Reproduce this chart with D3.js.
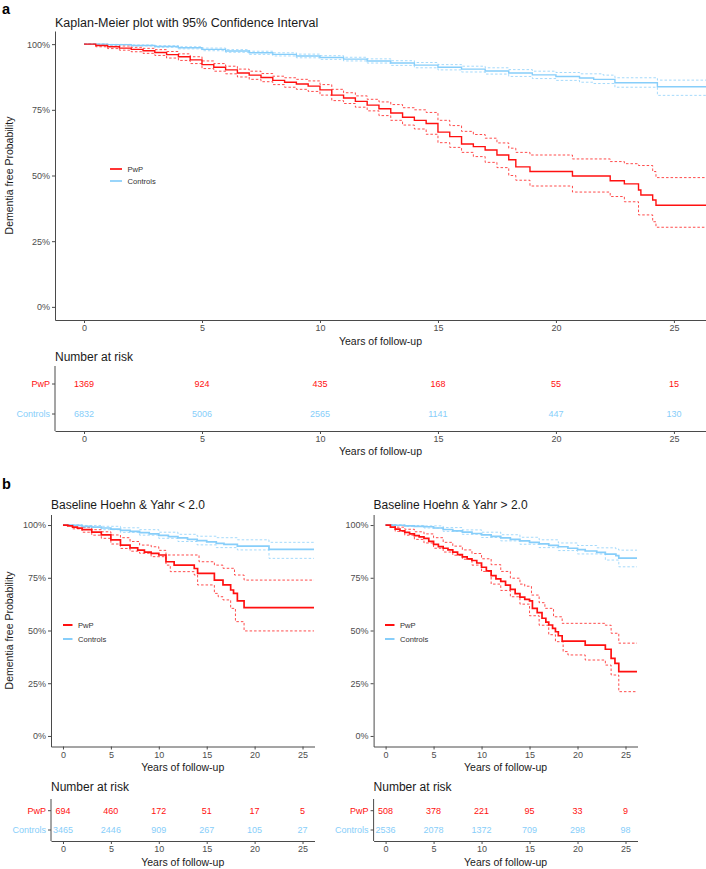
<!DOCTYPE html>
<html><head><meta charset="utf-8">
<script src="https://cdn.jsdelivr.net/npm/d3@7"></script>
<style>body{margin:0;background:#fff} svg text{font-family:"Liberation Sans",Arial,sans-serif}</style>
</head><body>
<svg id="chart" width="706" height="869"></svg>
<script>
// ---------------- data ----------------
const groups = ["PwP", "Controls"];
const riskTimes = [0, 5, 10, 15, 20, 25];
const yTicks = [0, 0.25, 0.5, 0.75, 1];

const riskAllPwP = [1369, 924, 435, 168, 55, 15];
const riskAllCtl = [6832, 5006, 2565, 1141, 447, 130];
const riskLowPwP = [694, 460, 172, 51, 17, 5];
const riskLowCtl = [3465, 2446, 909, 267, 105, 27];
const riskHighPwP = [508, 378, 221, 95, 33, 9];
const riskHighCtl = [2536, 2078, 1372, 709, 298, 98];

// Panel a : all patients  [years, survival]
const allPwP = [[0,1],[0.5,0.995],[1,0.99],[1.5,0.985],[2,0.98],[2.5,0.975],[3,0.968],[3.5,0.96],[4,0.952],[4.5,0.94],[5,0.922],[5.5,0.912],[6,0.902],[6.5,0.89],[7,0.882],[7.5,0.873],[8,0.862],[8.5,0.855],[9,0.848],[9.5,0.84],[10,0.826],[10.5,0.806],[11,0.795],[11.5,0.782],[12,0.768],[12.5,0.754],[13,0.738],[13.5,0.722],[14,0.71],[14.5,0.698],[15,0.665],[15.5,0.648],[16,0.62],[16.5,0.61],[17,0.597],[17.5,0.578],[18,0.56],[18.3,0.533],[18.9,0.515],[20.7,0.498],[22.3,0.48],[22.9,0.468],[23.5,0.445],[23.6,0.426],[24.1,0.407],[24.24,0.387],[26.4,0.387]];
const allPwPUp = [[0,1],[0.5,0.999],[1,0.997],[1.5,0.993],[2,0.988],[2.5,0.984],[3,0.979],[3.5,0.972],[4,0.963],[4.5,0.952],[5,0.936],[5.5,0.926],[6,0.916],[6.5,0.905],[7,0.897],[7.5,0.888],[8,0.878],[8.5,0.872],[9,0.866],[9.5,0.86],[10,0.846],[10.5,0.828],[11,0.815],[11.5,0.803],[12,0.79],[12.5,0.78],[13,0.77],[13.5,0.758],[14,0.75],[14.5,0.74],[15,0.71],[15.5,0.69],[16,0.668],[16.5,0.656],[17,0.642],[17.5,0.624],[18,0.604],[18.3,0.588],[18.9,0.578],[20.7,0.563],[22.3,0.553],[22.9,0.545],[23.5,0.538],[24.1,0.515],[24.24,0.492],[26.4,0.492]];
const allPwPLo = [[0,1],[0.5,0.99],[1,0.983],[1.5,0.977],[2,0.971],[2.5,0.965],[3,0.957],[3.5,0.947],[4,0.938],[4.5,0.926],[5,0.907],[5.5,0.897],[6,0.887],[6.5,0.875],[7,0.866],[7.5,0.857],[8,0.846],[8.5,0.836],[9,0.828],[9.5,0.82],[10,0.806],[10.5,0.785],[11,0.774],[11.5,0.76],[12,0.746],[12.5,0.728],[13,0.71],[13.5,0.692],[14,0.677],[14.5,0.657],[15,0.625],[15.5,0.607],[16,0.588],[16.5,0.572],[17,0.55],[17.5,0.53],[18,0.5],[18.3,0.482],[18.9,0.46],[20.7,0.437],[22.3,0.42],[22.9,0.4],[23.5,0.35],[24.1,0.324],[24.24,0.303],[26.4,0.303]];
const allCtl = [[0,1],[1,0.998],[2,0.995],[3,0.991],[4,0.986],[5,0.98],[6,0.974],[7,0.967],[8,0.961],[9,0.955],[10,0.949],[11,0.943],[12,0.936],[13,0.928],[14,0.92],[15,0.912],[16,0.905],[17,0.898],[18,0.89],[19,0.883],[20,0.877],[21,0.871],[21.6,0.866],[22.5,0.853],[24.3,0.838],[26.4,0.838]];
const allCtlUp = [[0,1],[1,0.999],[2,0.997],[3,0.994],[4,0.99],[5,0.985],[6,0.979],[7,0.973],[8,0.967],[9,0.962],[10,0.956],[11,0.95],[12,0.944],[13,0.937],[14,0.93],[15,0.922],[16,0.916],[17,0.91],[18,0.903],[19,0.897],[20,0.892],[21,0.887],[22,0.882],[22.5,0.872],[24.3,0.863],[26.4,0.863]];
const allCtlLo = [[0,1],[1,0.997],[2,0.993],[3,0.988],[4,0.982],[5,0.975],[6,0.969],[7,0.961],[8,0.955],[9,0.948],[10,0.942],[11,0.936],[12,0.928],[13,0.919],[14,0.91],[15,0.902],[16,0.894],[17,0.886],[18,0.877],[19,0.869],[20,0.862],[21,0.855],[21.6,0.85],[22.5,0.836],[24.3,0.805],[26.4,0.805]];

// Panel b left : Hoehn & Yahr < 2.0
const lowPwP = [[0,1],[0.5,0.996],[1,0.99],[1.5,0.985],[2,0.978],[3,0.966],[4,0.953],[5,0.93],[6,0.905],[7,0.892],[7.8,0.881],[8.5,0.872],[9.2,0.866],[10,0.858],[10.75,0.826],[11.6,0.81],[13.7,0.794],[14.05,0.771],[15.8,0.739],[16.7,0.716],[17.5,0.692],[17.8,0.676],[18.2,0.64],[18.9,0.608],[26.2,0.608]];
const lowPwPUp = [[0,1],[1,0.997],[2,0.988],[3,0.978],[4,0.968],[5,0.953],[6,0.94],[7,0.922],[8,0.905],[9.2,0.897],[10,0.88],[10.75,0.858],[14.2,0.826],[15.8,0.81],[16.7,0.795],[17.9,0.763],[18.9,0.739],[26.2,0.739]];
const lowPwPLo = [[0,1],[1,0.982],[2,0.966],[3,0.952],[4,0.937],[5,0.91],[6,0.889],[7,0.876],[8,0.866],[9.2,0.85],[10.75,0.81],[11.2,0.779],[13.7,0.763],[14.05,0.716],[15.8,0.676],[16.2,0.66],[16.7,0.645],[17.5,0.605],[18,0.542],[18.9,0.498],[26.2,0.498]];
const lowCtl = [[0,1],[1,0.998],[2,0.994],[3,0.99],[4,0.986],[5,0.981],[6,0.975],[7,0.97],[8,0.964],[9,0.958],[10,0.951],[11,0.945],[12,0.939],[13,0.932],[14,0.926],[15,0.92],[16,0.913],[16.8,0.908],[18.2,0.9],[21.5,0.885],[26.2,0.885]];
const lowCtlUp = [[0,1],[2,0.998],[4,0.994],[6,0.987],[8,0.978],[10,0.966],[12,0.956],[14,0.947],[16,0.94],[18.2,0.93],[21.5,0.918],[26.2,0.918]];
const lowCtlLo = [[0,1],[2,0.99],[4,0.978],[6,0.965],[8,0.952],[10,0.937],[12,0.922],[14,0.906],[16,0.893],[18.2,0.882],[21.5,0.842],[26.2,0.842]];

// Panel b right : Hoehn & Yahr > 2.0
const highPwP = [[0,1],[0.5,0.99],[1,0.981],[1.5,0.973],[2,0.965],[2.5,0.958],[3,0.95],[3.5,0.944],[4,0.937],[4.5,0.923],[5,0.908],[5.5,0.898],[6,0.89],[6.5,0.882],[7,0.872],[7.5,0.86],[8,0.849],[8.5,0.84],[9,0.832],[9.5,0.82],[10,0.8],[10.5,0.783],[11,0.76],[11.5,0.745],[12,0.733],[12.5,0.715],[13,0.695],[13.5,0.675],[14,0.658],[14.5,0.648],[15,0.64],[15.3,0.605],[15.8,0.585],[16.3,0.558],[16.7,0.54],[17,0.526],[17.4,0.51],[17.7,0.494],[18,0.475],[18.4,0.45],[20.8,0.431],[22.9,0.411],[23.5,0.368],[23.9,0.344],[24.3,0.305],[26.2,0.305]];
const highPwPUp = [[0,1],[1,0.99],[2,0.98],[3,0.968],[4,0.958],[5,0.94],[6,0.918],[7,0.9],[8,0.882],[9,0.865],[10,0.84],[11,0.812],[12,0.78],[13,0.748],[14,0.72],[14.5,0.71],[15.2,0.668],[16,0.632],[16.6,0.605],[17.5,0.565],[18.4,0.534],[22.9,0.525],[23.5,0.487],[24.3,0.44],[26.2,0.44]];
const highPwPLo = [[0,1],[1,0.97],[2,0.952],[3,0.932],[4,0.915],[5,0.89],[6,0.872],[7,0.857],[8,0.838],[9,0.81],[10,0.78],[11,0.72],[12,0.69],[13,0.66],[14,0.625],[15,0.57],[16,0.525],[17,0.48],[17.7,0.447],[18.5,0.4],[19,0.384],[20.8,0.36],[22.9,0.336],[23.5,0.289],[24.3,0.21],[26.2,0.21]];
const highCtl = [[0,1],[1,0.999],[2,0.996],[3,0.994],[4,0.992],[5,0.986],[6,0.979],[7,0.972],[8,0.966],[9,0.96],[10,0.953],[11,0.946],[12,0.939],[13,0.932],[14,0.925],[15,0.918],[16,0.911],[17,0.904],[18,0.897],[19,0.89],[20,0.883],[20.8,0.877],[22,0.87],[22.9,0.862],[24,0.855],[24.3,0.843],[26.2,0.843]];
const highCtlUp = [[0,1],[2,0.998],[4,0.996],[6,0.988],[8,0.977],[10,0.966],[12,0.954],[14,0.942],[16,0.93],[18,0.915],[20,0.903],[22,0.892],[24,0.886],[24.3,0.881],[26.2,0.881]];
const highCtlLo = [[0,1],[2,0.993],[4,0.986],[6,0.97],[8,0.956],[10,0.941],[12,0.925],[14,0.909],[16,0.893],[18,0.879],[20,0.863],[22.9,0.834],[24.3,0.802],[26.2,0.802]];

// ---------------- drawing ----------------
const RED = "#ff1010", BLUE = "#87cefa";
const AXIS = "#4a4a4a", TICKTXT = "#4d4d4d";
const colors = {PwP: RED, Controls: BLUE};
const svg = d3.select("#chart");
let clipId = 0;

function styleAxis(g, fs) {
  g.selectAll("path.domain").attr("stroke", AXIS).attr("stroke-width", 1);
  g.selectAll(".tick line").attr("stroke", AXIS).attr("stroke-width", 1);
  g.selectAll(".tick text").attr("fill", TICKTXT).attr("font-size", fs)
    .attr("font-family", "'Liberation Sans', Arial, sans-serif");
}

function kmPanel(cfg) {
  const x = d3.scaleLinear().domain(cfg.xDomain).range(cfg.xRange);
  const y = d3.scaleLinear().domain([-0.05, 1.05]).range(cfg.yRange);
  const g = svg.append("g");
  const id = "clip" + (clipId++);
  g.append("clipPath").attr("id", id).append("rect")
    .attr("x", cfg.xRange[0]).attr("y", cfg.yRange[1] - 2)
    .attr("width", cfg.xRange[1] - cfg.xRange[0]).attr("height", cfg.yRange[0] - cfg.yRange[1] + 2);

  g.append("text").attr("x", cfg.xRange[0]).attr("y", cfg.titleY)
    .attr("font-size", cfg.titleSize).attr("fill", "#1a1a1a").text(cfg.title);

  const line = d3.line().x(d => x(d[0])).y(d => y(d[1])).curve(d3.curveStepAfter);
  const cg = g.append("g").attr("clip-path", `url(#${id})`);
  cfg.series.forEach(s => {
    [s.lo, s.up].forEach(ci => {
      cg.append("path").datum(ci).attr("d", line).attr("fill", "none")
        .attr("stroke", colors[s.name]).attr("stroke-opacity", 0.75)
        .attr("stroke-width", 1).attr("stroke-dasharray", "2.5,2");
    });
  });
  cfg.series.slice().reverse().forEach(s => {
    cg.append("path").datum(s.est).attr("d", line).attr("fill", "none")
      .attr("stroke", colors[s.name]).attr("stroke-width", cfg.lineW);
  });

  const yAx = g.append("g").attr("transform", `translate(${cfg.xRange[0]},0)`)
    .call(d3.axisLeft(y).tickValues(yTicks).tickFormat(d3.format(".0%"))
      .tickSize(3).tickSizeOuter(0).tickPadding(2));
  styleAxis(yAx, 9);
  const xAx = g.append("g").attr("transform", `translate(0,${cfg.yRange[0]})`)
    .call(d3.axisBottom(x).tickValues(riskTimes).tickSize(3).tickSizeOuter(0).tickPadding(2));
  styleAxis(xAx, 9);

  g.append("text").attr("x", (cfg.xRange[0] + cfg.xRange[1]) / 2).attr("y", cfg.xTitleY)
    .attr("text-anchor", "middle").attr("font-size", 10.5).attr("fill", "#1a1a1a").text("Years of follow-up");

  if (cfg.yTitle) {
    const cy = (cfg.yRange[0] + cfg.yRange[1]) / 2;
    g.append("text").attr("transform", `translate(13,${cy}) rotate(-90)`)
      .attr("text-anchor", "middle").attr("font-size", 10.5).attr("fill", "#1a1a1a")
      .text("Dementia free Probability");
  }

  // legend
  const lg = g.append("g").attr("transform", `translate(${cfg.legend[0]},${cfg.legend[1]})`);
  groups.forEach((k, i) => {
    const yy = i * cfg.legendGap;
    lg.append("line").attr("x1", 0).attr("x2", cfg.legendLen).attr("y1", yy).attr("y2", yy)
      .attr("stroke", colors[k]).attr("stroke-width", cfg.lineW + 0.3);
    lg.append("text").attr("x", cfg.legendLen + 5.5).attr("y", yy + 2.7)
      .attr("font-size", 7.6).attr("fill", "#333").text(k);
  });
}

function riskTable(cfg) {
  const x = d3.scaleLinear().domain(cfg.xDomain).range(cfg.xRange);
  const y = d3.scalePoint().domain(groups).range(cfg.rows);
  const g = svg.append("g");
  g.append("text").attr("x", cfg.xRange[0]).attr("y", cfg.titleY)
    .attr("font-size", cfg.titleSize).attr("fill", "#1a1a1a").text("Number at risk");
  g.append("line").attr("x1", cfg.xRange[0]).attr("x2", cfg.xRange[0])
    .attr("y1", cfg.top).attr("y2", cfg.bottom).attr("stroke", AXIS);
  groups.forEach(k => {
    g.append("line").attr("x1", cfg.xRange[0] - 3).attr("x2", cfg.xRange[0])
      .attr("y1", y(k)).attr("y2", y(k)).attr("stroke", AXIS);
    g.append("text").attr("x", cfg.xRange[0] - 5).attr("y", y(k) + 3.2)
      .attr("text-anchor", "end").attr("font-size", 9).attr("fill", colors[k]).text(k);
  });
  const vals = {PwP: cfg.pwp, Controls: cfg.ctl};
  groups.forEach(k => {
    riskTimes.forEach((t, i) => {
      g.append("text").attr("x", x(t)).attr("y", y(k) + 3.2).attr("text-anchor", "middle")
        .attr("font-size", 9).attr("fill", colors[k]).text(vals[k][i]);
    });
  });
  const xAx = g.append("g").attr("transform", `translate(0,${cfg.bottom})`)
    .call(d3.axisBottom(x).tickValues(riskTimes).tickSize(3).tickSizeOuter(0).tickPadding(2));
  styleAxis(xAx, 9);
  g.append("text").attr("x", (cfg.xRange[0] + cfg.xRange[1]) / 2).attr("y", cfg.xTitleY)
    .attr("text-anchor", "middle").attr("font-size", 10.5).attr("fill", "#1a1a1a").text("Years of follow-up");
}

// panel letters
svg.append("text").attr("x", 2).attr("y", 14).attr("font-size", 14.5).attr("font-weight", "bold").text("a");
svg.append("text").attr("x", 2).attr("y", 489).attr("font-size", 14.5).attr("font-weight", "bold").text("b");

// Panel a
kmPanel({
  xDomain: [-1.23, 26.36], xRange: [55, 706], yRange: [320, 31],
  title: "Kaplan-Meier plot with 95% Confidence Interval", titleY: 27, titleSize: 12.5,
  xTitleY: 345, yTitle: true, lineW: 1.4,
  legend: [110, 169], legendGap: 12, legendLen: 12,
  series: [
    {name: "PwP", est: allPwP, up: allPwPUp, lo: allPwPLo},
    {name: "Controls", est: allCtl, up: allCtlUp, lo: allCtlLo}
  ]
});
riskTable({
  xDomain: [-1.23, 26.36], xRange: [55, 706], rows: [384, 414], top: 366, bottom: 431,
  titleY: 360.5, titleSize: 12, xTitleY: 455, pwp: riskAllPwP, ctl: riskAllCtl
});

// Panel b left
kmPanel({
  xDomain: [-1.25, 26.25], xRange: [51, 314.5], yRange: [746.5, 514.5],
  title: "Baseline Hoehn & Yahr < 2.0", titleY: 508.5, titleSize: 12,
  xTitleY: 771, yTitle: true, lineW: 1.7,
  legend: [63, 625], legendGap: 14, legendLen: 9.5,
  series: [
    {name: "PwP", est: lowPwP, up: lowPwPUp, lo: lowPwPLo},
    {name: "Controls", est: lowCtl, up: lowCtlUp, lo: lowCtlLo}
  ]
});
riskTable({
  xDomain: [-1.25, 26.25], xRange: [51, 314.5], rows: [810.7, 830], top: 799, bottom: 841,
  titleY: 791, titleSize: 12, xTitleY: 865.5, pwp: riskLowPwP, ctl: riskLowCtl
});

// Panel b right
kmPanel({
  xDomain: [-1.25, 26.25], xRange: [373.6, 637.5], yRange: [746.5, 514.5],
  title: "Baseline Hoehn & Yahr > 2.0", titleY: 508.5, titleSize: 12,
  xTitleY: 771, yTitle: false, lineW: 1.7,
  legend: [385, 625], legendGap: 14, legendLen: 9.5,
  series: [
    {name: "PwP", est: highPwP, up: highPwPUp, lo: highPwPLo},
    {name: "Controls", est: highCtl, up: highCtlUp, lo: highCtlLo}
  ]
});
riskTable({
  xDomain: [-1.25, 26.25], xRange: [373.6, 637.5], rows: [810.7, 830], top: 799, bottom: 841,
  titleY: 791, titleSize: 12, xTitleY: 865.5, pwp: riskHighPwP, ctl: riskHighCtl
});
</script>
</body></html>
